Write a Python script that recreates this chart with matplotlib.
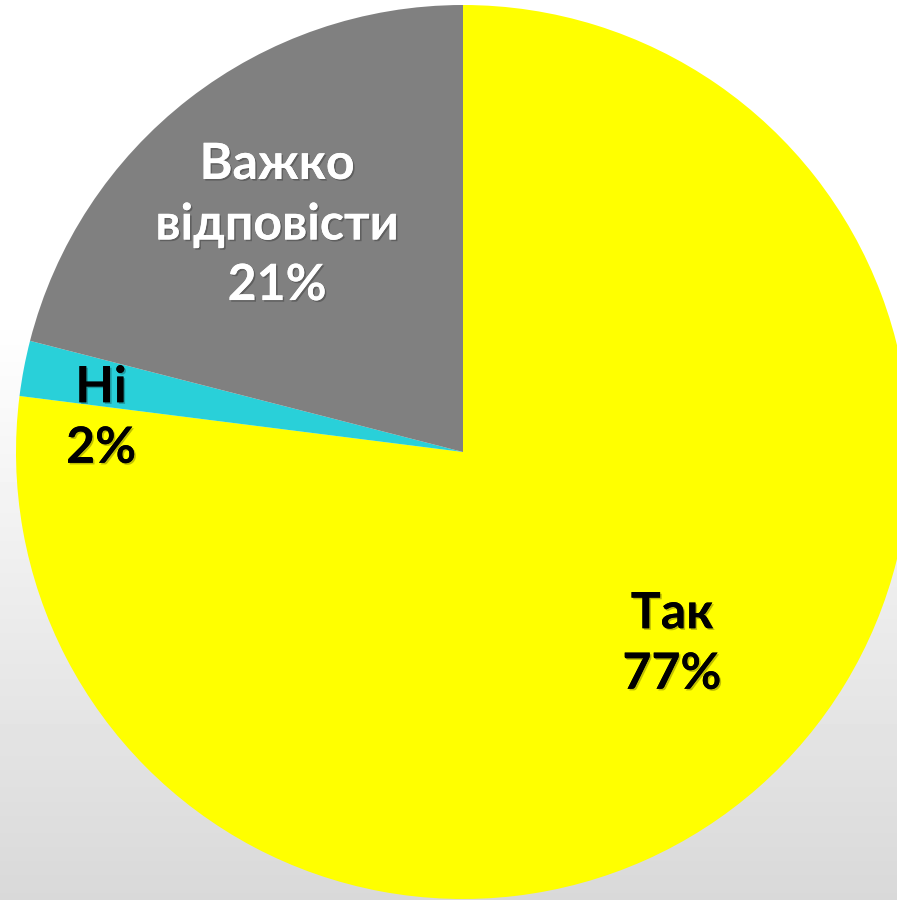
import numpy as np
import matplotlib
matplotlib.use("Agg")
import matplotlib.pyplot as plt
import matplotlib.patheffects as pe

categories = ["Так", "Ні", "Важко\nвідповісти"]
values = [77, 2, 21]
colors = ["#FFFF00", "#29D0D9", "#808080"]
text_colors = ["black", "black", "white"]

W, H = 897, 900
fig = plt.figure(figsize=(W / 100, H / 100), dpi=100)
ax = fig.add_axes([0, 0, 1, 1])

# background gradient (white top -> light gray bottom)
g = np.linspace(0, 1, 256)
shade = np.where(g < 0.35, 1.0, 1.0 - (g - 0.35) / 0.65 * 0.15)
bg = np.repeat(shade[:, None], 2, axis=1)
ax.imshow(bg, cmap="gray", vmin=0, vmax=1, extent=[0, W, 0, H], aspect="auto", zorder=0, origin="upper")

center = (463, 448)
radius = 447
wedges, _ = ax.pie(values, colors=colors, startangle=90, counterclock=False,
                   center=center, radius=radius, frame=True,
                   wedgeprops=dict(linewidth=0, zorder=2))
ax.set_xlim(0, W)
ax.set_ylim(0, H)
ax.set_aspect("equal")
ax.axis("off")

shadow = [pe.withSimplePatchShadow(offset=(1.2, -1.2), shadow_rgbFace="black", alpha=0.25), pe.Normal()]
font = ["Lato", "DejaVu Sans"]

label_pos = [(672, 256), (101, 482), (277, 675)]
for cat, v, tc, (x, y) in zip(categories, values, text_colors, label_pos):
    ax.text(x, y, f"{cat}\n{v}%", ha="center", va="center", fontsize=36,
            fontweight="bold", color=tc, family=font, linespacing=1.42,
            zorder=5, path_effects=shadow)

fig.savefig("out.png", dpi=100)
